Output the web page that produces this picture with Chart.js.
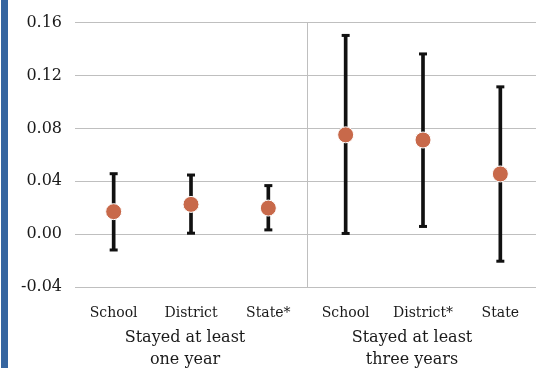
<!DOCTYPE html>
<html>
<head>
    <title>Stayed at least</title>
    <script src="https://cdn.jsdelivr.net/npm/chart.js"></script>
    <style>
        html, body { margin: 0; padding: 0; background: #fff; overflow: hidden; }
        .edge { position: absolute; left: 1px; top: 0; width: 7px; height: 368px; background: #3565a0; }
        .box { position: absolute; left: 0; top: 0; width: 548px; height: 368px; }
    </style>
</head>
<body>
<div class="box"><canvas id="chart" width="548" height="368"></canvas></div>
<div class="edge"></div>
<script>
    var categories = ['School', 'District', 'State*', 'School', 'District*', 'State'];
    var groups = [['Stayed at least', 'one year'], ['Stayed at least', 'three years']];
    var estimates = [0.017, 0.0225, 0.0197, 0.0751, 0.0712, 0.0455];
    var lower = [-0.012, 0.0007, 0.0032, 0.0005, 0.0058, -0.0205];
    var upper = [0.0457, 0.0447, 0.0367, 0.1503, 0.1363, 0.1114];
    var yTicks = [-0.04, 0.00, 0.04, 0.08, 0.12, 0.16];

    var serif = '"DejaVu Serif", serif';
    var groupShift = [-6, -11];

    // caps on the whiskers, the separator and the group names
    var extras = {
        id: 'extras',
        beforeDatasetsDraw: function (chart) {
            var ctx = chart.ctx, x = chart.scales.x, area = chart.chartArea;
            var sep = (x.getPixelForValue(2) + x.getPixelForValue(3)) / 2;
            ctx.save();
            ctx.strokeStyle = '#bfbfbf';
            ctx.lineWidth = 1;
            ctx.beginPath();
            ctx.moveTo(Math.round(sep) + 0.5, area.top);
            ctx.lineTo(Math.round(sep) + 0.5, area.bottom);
            ctx.stroke();
            ctx.restore();
        },
        afterDatasetsDraw: function (chart) {
            var ctx = chart.ctx, x = chart.scales.x, y = chart.scales.y;
            ctx.save();
            ctx.strokeStyle = '#111';
            ctx.lineWidth = 3;
            for (var i = 0; i < categories.length; i++) {
                var px = x.getPixelForValue(i);
                [lower[i], upper[i]].forEach(function (v) {
                    var py = y.getPixelForValue(v);
                    ctx.beginPath();
                    ctx.moveTo(px - 4, py);
                    ctx.lineTo(px + 4, py);
                    ctx.stroke();
                });
            }
            ctx.restore();
        },
        afterDraw: function (chart) {
            var ctx = chart.ctx, x = chart.scales.x;
            ctx.save();
            ctx.fillStyle = '#1a1a1a';
            ctx.font = '16px ' + serif;
            ctx.textAlign = 'center';
            ctx.textBaseline = 'middle';
            groups.forEach(function (g, k) {
                var cx = x.getPixelForValue(k * 3 + 1) + groupShift[k];
                ctx.fillText(g[0], cx, 338);
                ctx.fillText(g[1], cx, 360);
            });
            ctx.restore();
        }
    };

    new Chart(document.getElementById('chart'), {
        type: 'bar',
        data: {
            labels: categories,
            datasets: [{
                type: 'line',
                data: estimates,
                showLine: false,
                pointRadius: 8,
                pointHoverRadius: 8,
                pointBackgroundColor: '#c8694a',
                pointBorderColor: '#ffffff',
                pointBorderWidth: 1,
                order: 0
            }, {
                data: lower.map(function (lo, i) { return [lo, upper[i]]; }),
                backgroundColor: '#111',
                barThickness: 3,
                order: 1
            }]
        },
        plugins: [extras],
        options: {
            responsive: false,
            animation: false,
            devicePixelRatio: 1,
            layout: { padding: { top: 20, right: 0, bottom: 0, left: 0 } },
            plugins: { legend: { display: false }, tooltip: { enabled: false } },
            scales: {
                x: {
                    offset: true,
                    grid: { display: false },
                    border: { display: false },
                    ticks: { color: '#1a1a1a', font: { family: serif, size: 14 }, padding: 10, maxRotation: 0, autoSkip: false },
                    afterFit: function (s) { s.height = 81; }
                },
                y: {
                    min: -0.04,
                    max: 0.16,
                    afterBuildTicks: function (s) { s.ticks = yTicks.map(function (v) { return { value: v }; }); },
                    grid: { color: '#bfbfbf', drawTicks: false },
                    border: { display: false },
                    ticks: {
                        color: '#1a1a1a',
                        font: { family: serif, size: 16 },
                        padding: 13,
                        autoSkip: false,
                        callback: function (v) { return v.toFixed(2); }
                    },
                    afterFit: function (s) { s.width = 75; }
                }
            }
        }
    });
</script>
</body>
</html>
